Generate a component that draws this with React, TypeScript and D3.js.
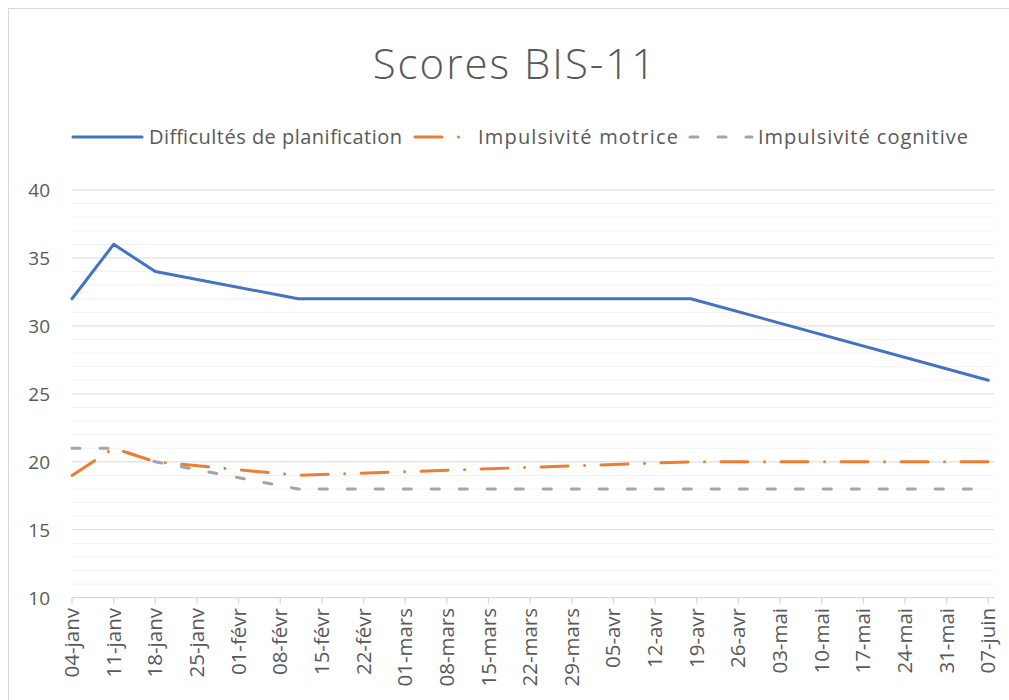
import React from "react";
import * as d3 from "d3";

const title = "Scores BIS-11";
const seriesNames = ["Difficultés de planification", "Impulsivité motrice", "Impulsivité cognitive"];
const pointDates = ["2021-01-04", "2021-01-11", "2021-01-18", "2021-02-11", "2021-04-18", "2021-06-07"];
const planification = [32, 36, 34, 32, 32, 26];
const motrice = [19, 21, 20, 19, 20, 20];
const cognitive = [21, 21, 20, 18, 18, 18];
const tickDates = [
  "2021-01-04", "2021-01-11", "2021-01-18", "2021-01-25", "2021-02-01", "2021-02-08",
  "2021-02-15", "2021-02-22", "2021-03-01", "2021-03-08", "2021-03-15", "2021-03-22",
  "2021-03-29", "2021-04-05", "2021-04-12", "2021-04-19", "2021-04-26", "2021-05-03",
  "2021-05-10", "2021-05-17", "2021-05-24", "2021-05-31", "2021-06-07",
];
const monthNames = ["janv", "févr", "mars", "avr", "mai", "juin", "juil", "août", "sept", "oct", "nov", "déc"];
const yTicks = [10, 15, 20, 25, 30, 35, 40];
const colors = ["#4472c4", "#ed7d31", "#a5a5a5"];
const dashes = ["none", "27 16.5 0.01 16.5", "8 20"];

const parse = d3.utcParse("%Y-%m-%d");
const fmt = (d: Date) => `${String(d.getUTCDate()).padStart(2, "0")}-${monthNames[d.getUTCMonth()]}`;

export default function App() {
  const W = 1009, H = 700;
  const left = 72, right = 988.3, top = 190, bottom = 597.7;
  const x = d3.scaleUtc().domain([parse(tickDates[0])!, parse(tickDates[tickDates.length - 1])!]).range([left, right]);
  const y = d3.scaleLinear().domain([10, 40]).range([bottom, top]);
  const gridRight = 994;
  const minor = d3.range(10, 41, 1).filter((v) => v % 5 !== 0);
  const series = [planification, motrice, cognitive];
  const line = d3.line<[Date, number]>().x((d) => x(d[0])).y((d) => y(d[1]));
  const font = "'Open Sans', Lato, sans-serif";
  const textColor = "#595959";

  const legendItems = [
    { x1: 73, x2: 142, tx: 149, len: 253 },
    { x1: 415, x2: 472, tx: 478, len: 200 },
    { x1: 690, x2: 752, tx: 758, len: 210 },
  ];

  return (
    <svg width={W} height={H} style={{ position: "absolute", left: 0, top: 0, background: "#fff" }} fontFamily={font}>
      <rect x={8.5} y={8.5} width={1200} height={1000} fill="#fff" stroke="#d9d9d9" />
      <text x={515} y={79} textAnchor="middle" fontSize={42} fontWeight={300} letterSpacing={2} fill={textColor}>{title}</text>
      {legendItems.map((it, i) => (
        <g key={i}>
          <line x1={it.x1} x2={it.x2} y1={137} y2={137} stroke={colors[i]} strokeWidth={3}
            strokeDasharray={i === 0 ? undefined : (i === 1 ? "27 16.5 0.01 16.5" : "8 20")} strokeLinecap="round" />
          <text x={it.tx} y={144} fontSize={20} textLength={it.len} lengthAdjust="spacing" fill={textColor}>{seriesNames[i]}</text>
        </g>
      ))}
      {minor.map((v) => (
        <line key={"m" + v} x1={left} x2={gridRight} y1={y(v)} y2={y(v)} stroke="#f2f2f2" strokeWidth={1} />
      ))}
      {yTicks.map((v) => (
        <g key={"y" + v}>
          {v !== 10 && <line x1={left} x2={gridRight} y1={y(v)} y2={y(v)} stroke="#d9d9d9" strokeWidth={1} />}
          <text x={50} y={y(v) + 7} textAnchor="end" fontSize={19} fill={textColor}>{v}</text>
        </g>
      ))}
      <line x1={left} x2={gridRight} y1={bottom} y2={bottom} stroke="#d9d9d9" strokeWidth={1.3} />
      {tickDates.map((s) => {
        const d = parse(s)!;
        const tx = x(d);
        return (
          <g key={s}>
            <line x1={tx} x2={tx} y1={bottom} y2={bottom + 6} stroke="#d9d9d9" strokeWidth={1.3} />
            <text transform={`translate(${tx + 7},${608}) rotate(-90)`} textAnchor="end" fontSize={20.5} fill={textColor}>{fmt(d)}</text>
          </g>
        );
      })}
      {series.map((vals, i) => {
        const pts: [Date, number][] = pointDates.map((s, j) => [parse(s)!, vals[j]]);
        return (
          <path key={i} d={line(pts) || ""} fill="none" stroke={colors[i]} strokeWidth={3}
            strokeDasharray={dashes[i] === "none" ? undefined : dashes[i]} strokeLinecap="round" strokeLinejoin="round" />
        );
      }).reverse()}
    </svg>
  );
}
